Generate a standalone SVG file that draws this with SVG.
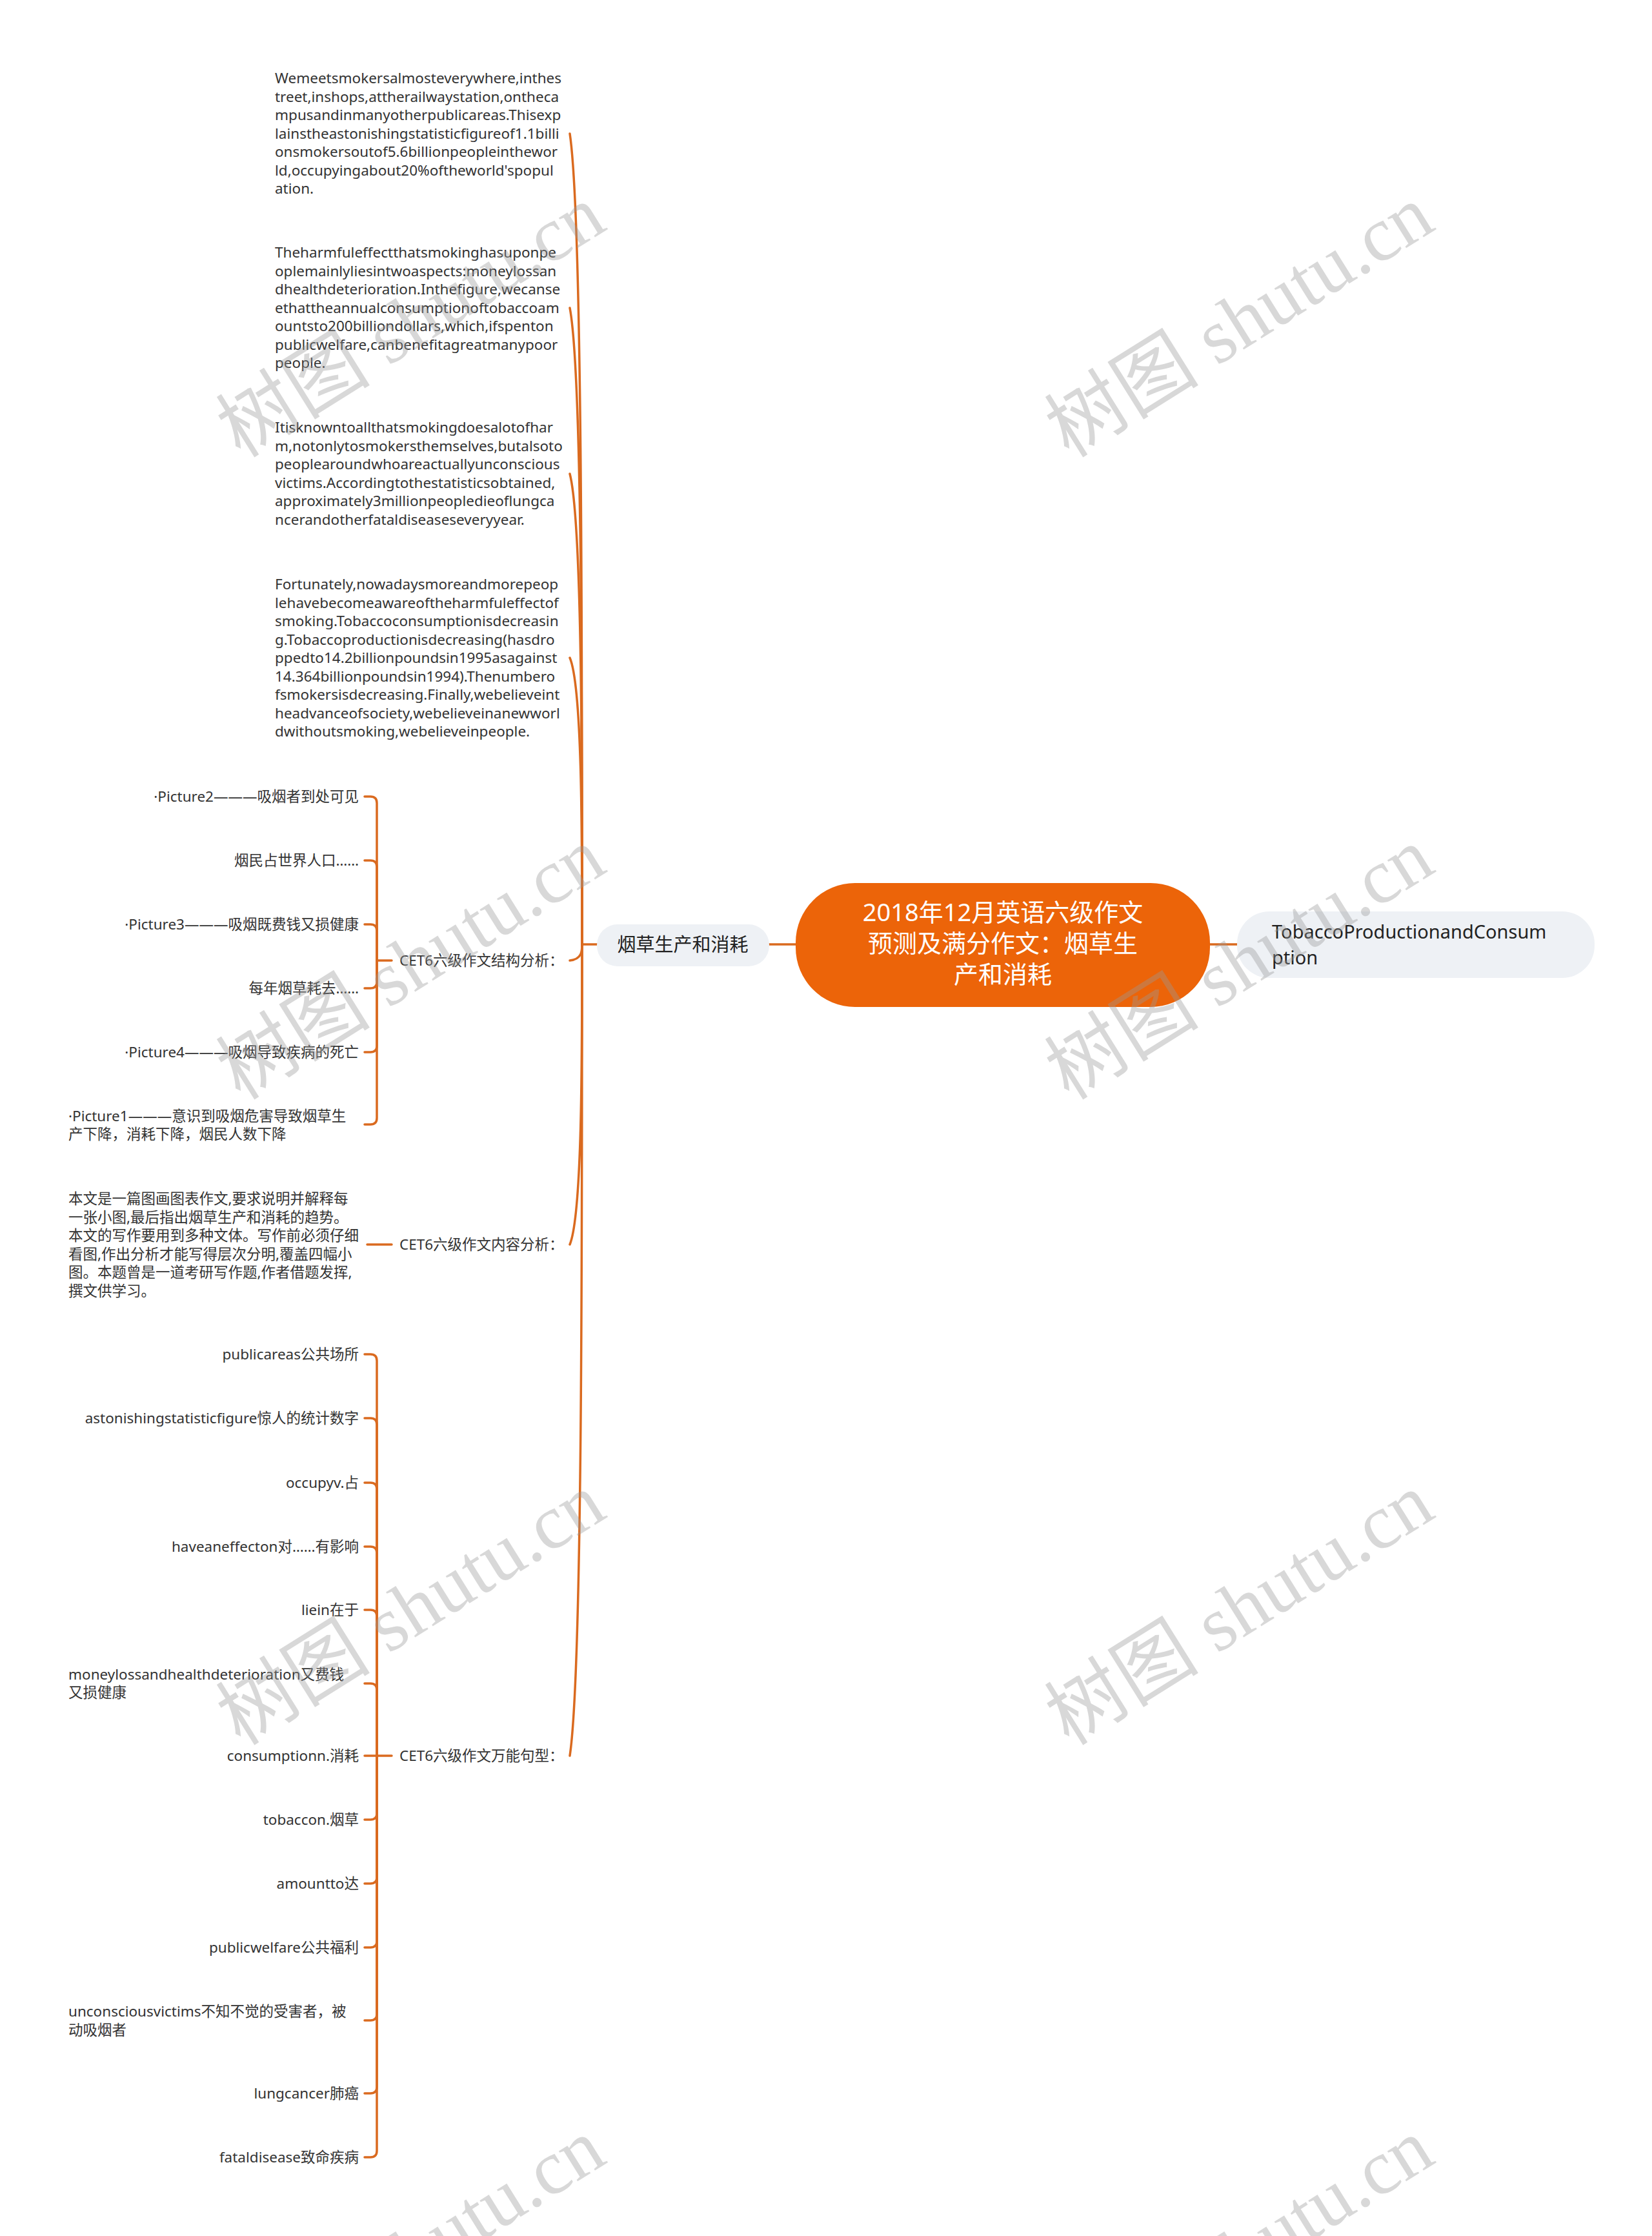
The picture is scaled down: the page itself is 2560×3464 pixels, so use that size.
<svg xmlns="http://www.w3.org/2000/svg" width="2560" height="3464" viewBox="0 0 2560 3464">
<style>
.t{font-family:"Noto Sans","Noto Sans CJK SC",sans-serif;font-size:22.5px;fill:#333}
.r{text-anchor:end}
.ln{fill:none;stroke:#DA6A1F;stroke-width:3.5;stroke-linecap:round}
.n1{font-family:"Noto Sans","Noto Sans CJK SC",sans-serif;font-size:29px;fill:#222}
.wm{font-family:"Liberation Serif","Noto Sans CJK SC",serif;font-size:120px;fill:#999;fill-opacity:0.38;text-anchor:middle}
</style>
<rect width="2560" height="3464" fill="#fff"/>
<g id="connectors">
<path class="ln" d="M1192,1463 H1233"/>
<path class="ln" d="M1875,1463 H1917"/>
<path class="ln" d="M925,1463 H902"/>
<path class="ln" d="M902,1463 C902,961 902,333 883,207"/>
<path class="ln" d="M902,1463 C902,1069 902,576 883,477"/>
<path class="ln" d="M902,1463 C902,1171 902,807 883,734"/>
<path class="ln" d="M902,1463 C902,1285 902,1063 883,1019"/>
<path class="ln" d="M902,1463 C902,1473 902,1486 883,1488"/>
<path class="ln" d="M902,1463 C902,1649 902,1882 883,1928"/>
<path class="ln" d="M902,1463 C902,1966 902,2595 883,2720"/>
<path class="ln" d="M607,1488 H584"/>
<path class="ln" d="M584,1488 V1244 Q584,1234 574,1234 H565"/>
<path class="ln" d="M584,1488 V1343 Q584,1333 574,1333 H565"/>
<path class="ln" d="M584,1488 V1442 Q584,1432 574,1432 H565"/>
<path class="ln" d="M584,1488 V1521 Q584,1531 574,1531 H565"/>
<path class="ln" d="M584,1488 V1620 Q584,1630 574,1630 H565"/>
<path class="ln" d="M584,1488 V1732 Q584,1742 574,1742 H565"/>
<path class="ln" d="M607,1928 H569"/>
<path class="ln" d="M607,2720 H565"/>
<path class="ln" d="M584,2720 V2108 Q584,2098 574,2098 H565"/>
<path class="ln" d="M584,2720 V2207 Q584,2197 574,2197 H565"/>
<path class="ln" d="M584,2720 V2307 Q584,2297 574,2297 H565"/>
<path class="ln" d="M584,2720 V2406 Q584,2396 574,2396 H565"/>
<path class="ln" d="M584,2720 V2504 Q584,2494 574,2494 H565"/>
<path class="ln" d="M584,2720 V2618 Q584,2608 574,2608 H565"/>
<path class="ln" d="M584,2720 V2809 Q584,2819 574,2819 H565"/>
<path class="ln" d="M584,2720 V2908 Q584,2918 574,2918 H565"/>
<path class="ln" d="M584,2720 V3007 Q584,3017 574,3017 H565"/>
<path class="ln" d="M584,2720 V3120 Q584,3130 574,3130 H565"/>
<path class="ln" d="M584,2720 V3233 Q584,3243 574,3243 H565"/>
<path class="ln" d="M584,2720 V3332 Q584,3342 574,3342 H565"/>
</g>
<g id="root">
<rect x="1233" y="1368" width="642" height="192" rx="92" fill="#EC6409"/>
<text font-family="Noto Sans,Noto Sans CJK SC,sans-serif" font-size="38" fill="#fff" text-anchor="middle"><tspan x="1554" y="1427">2018年12月英语六级作文</tspan><tspan x="1554" y="1475">预测及满分作文：烟草生</tspan><tspan x="1554" y="1523">产和消耗</tspan></text>
</g>
<g id="n-tobacco">
<rect x="1917" y="1412" width="554" height="103" rx="50" fill="#EEF1F5"/>
<text class="n1"><tspan x="1971" y="1454">TobaccoProductionandConsum</tspan><tspan x="1971" y="1494">ption</tspan></text>
</g>
<g id="n-main">
<rect x="925" y="1432" width="267" height="65" rx="32" fill="#EEF1F5"/>
<text class="n1" x="1058" y="1474" text-anchor="middle">烟草生产和消耗</text>
</g>
<g id="p1">
<text class="t"><tspan x="426" y="129">Wemeetsmokersalmosteverywhere,inthes</tspan><tspan x="426" y="157.5">treet,inshops,attherailwaystation,ontheca</tspan><tspan x="426" y="186">mpusandinmanyotherpublicareas.Thisexp</tspan><tspan x="426" y="214.5">lainstheastonishingstatisticfigureof1.1billi</tspan><tspan x="426" y="243">onsmokersoutof5.6billionpeopleinthewor</tspan><tspan x="426" y="271.5">ld,occupyingabout20%oftheworld'spopul</tspan><tspan x="426" y="300">ation.</tspan></text>
</g>
<g id="p2">
<text class="t"><tspan x="426" y="399">Theharmfuleffectthatsmokinghasuponpe</tspan><tspan x="426" y="427.5">oplemainlyliesintwoaspects:moneylossan</tspan><tspan x="426" y="456">dhealthdeterioration.Inthefigure,wecanse</tspan><tspan x="426" y="484.5">ethattheannualconsumptionoftobaccoam</tspan><tspan x="426" y="513">ountsto200billiondollars,which,ifspenton</tspan><tspan x="426" y="541.5">publicwelfare,canbenefitagreatmanypoor</tspan><tspan x="426" y="570">people.</tspan></text>
</g>
<g id="p3">
<text class="t"><tspan x="426" y="670">Itisknowntoallthatsmokingdoesalotofhar</tspan><tspan x="426" y="698.5">m,notonlytosmokersthemselves,butalsoto</tspan><tspan x="426" y="727">peoplearoundwhoareactuallyunconscious</tspan><tspan x="426" y="755.5">victims.Accordingtothestatisticsobtained,</tspan><tspan x="426" y="784">approximately3millionpeopledieoflungca</tspan><tspan x="426" y="812.5">ncerandotherfataldiseaseseveryyear.</tspan></text>
</g>
<g id="p4">
<text class="t"><tspan x="426" y="913">Fortunately,nowadaysmoreandmorepeop</tspan><tspan x="426" y="941.5">lehavebecomeawareoftheharmfuleffectof</tspan><tspan x="426" y="970">smoking.Tobaccoconsumptionisdecreasin</tspan><tspan x="426" y="998.5">g.Tobaccoproductionisdecreasing(hasdro</tspan><tspan x="426" y="1027">ppedto14.2billionpoundsin1995asagainst</tspan><tspan x="426" y="1055.5">14.364billionpoundsin1994).Thenumbero</tspan><tspan x="426" y="1084">fsmokersisdecreasing.Finally,webelieveint</tspan><tspan x="426" y="1112.5">headvanceofsociety,webelieveinanewworl</tspan><tspan x="426" y="1141">dwithoutsmoking,webelieveinpeople.</tspan></text>
</g>
<g id="structure">
<text class="t" x="619" y="1496">CET6六级作文结构分析：</text>
<g id="s1"><text class="t r" x="556" y="1242">·Picture2———吸烟者到处可见</text></g>
<g id="s2"><text class="t r" x="556" y="1341">烟民占世界人口……</text></g>
<g id="s3"><text class="t r" x="556" y="1440">·Picture3———吸烟既费钱又损健康</text></g>
<g id="s4"><text class="t r" x="556" y="1539">每年烟草耗去……</text></g>
<g id="s5"><text class="t r" x="556" y="1638">·Picture4———吸烟导致疾病的死亡</text></g>
<g id="s6"><text class="t"><tspan x="106" y="1737">·Picture1———意识到吸烟危害导致烟草生</tspan><tspan x="106" y="1765">产下降，消耗下降，烟民人数下降</tspan></text></g>
</g>
<g id="content">
<text class="t" x="619" y="1936">CET6六级作文内容分析：</text>
<g id="c1"><text class="t"><tspan x="106" y="1865">本文是一篇图画图表作文,要求说明并解释每</tspan><tspan x="106" y="1893.5">一张小图,最后指出烟草生产和消耗的趋势。</tspan><tspan x="106" y="1922">本文的写作要用到多种文体。写作前必须仔细</tspan><tspan x="106" y="1950.5">看图,作出分析才能写得层次分明,覆盖四幅小</tspan><tspan x="106" y="1979">图。本题曾是一道考研写作题,作者借题发挥,</tspan><tspan x="106" y="2007.5">撰文供学习。</tspan></text></g>
</g>
<g id="phrases">
<text class="t" x="619" y="2728">CET6六级作文万能句型：</text>
<g id="w1"><text class="t r" x="556" y="2106">publicareas公共场所</text></g>
<g id="w2"><text class="t r" x="556" y="2205">astonishingstatisticfigure惊人的统计数字</text></g>
<g id="w3"><text class="t r" x="556" y="2305">occupyv.占</text></g>
<g id="w4"><text class="t r" x="556" y="2404">haveaneffecton对……有影响</text></g>
<g id="w5"><text class="t r" x="556" y="2502">liein在于</text></g>
<g id="w6"><text class="t"><tspan x="106" y="2602">moneylossandhealthdeterioration又费钱</tspan><tspan x="106" y="2630">又损健康</tspan></text></g>
<g id="w7"><text class="t r" x="556" y="2728">consumptionn.消耗</text></g>
<g id="w8"><text class="t r" x="556" y="2827">tobaccon.烟草</text></g>
<g id="w9"><text class="t r" x="556" y="2926">amountto达</text></g>
<g id="w10"><text class="t r" x="556" y="3025">publicwelfare公共福利</text></g>
<g id="w11"><text class="t"><tspan x="106" y="3124">unconsciousvictims不知不觉的受害者，被</tspan><tspan x="106" y="3153">动吸烟者</tspan></text></g>
<g id="w12"><text class="t r" x="556" y="3251">lungcancer肺癌</text></g>
<g id="w13"><text class="t r" x="556" y="3350">fataldisease致命疾病</text></g>
</g>
<g id="watermark">
<text class="wm" x="638" y="538" transform="rotate(-32 638 500)">树图 shutu.cn</text>
<text class="wm" x="1922" y="538" transform="rotate(-32 1922 500)">树图 shutu.cn</text>
<text class="wm" x="638" y="1533" transform="rotate(-32 638 1495)">树图 shutu.cn</text>
<text class="wm" x="1922" y="1533" transform="rotate(-32 1922 1495)">树图 shutu.cn</text>
<text class="wm" x="638" y="2533" transform="rotate(-32 638 2495)">树图 shutu.cn</text>
<text class="wm" x="1922" y="2533" transform="rotate(-32 1922 2495)">树图 shutu.cn</text>
<text class="wm" x="638" y="3533" transform="rotate(-32 638 3495)">树图 shutu.cn</text>
<text class="wm" x="1922" y="3533" transform="rotate(-32 1922 3495)">树图 shutu.cn</text>
</g>
</svg>
